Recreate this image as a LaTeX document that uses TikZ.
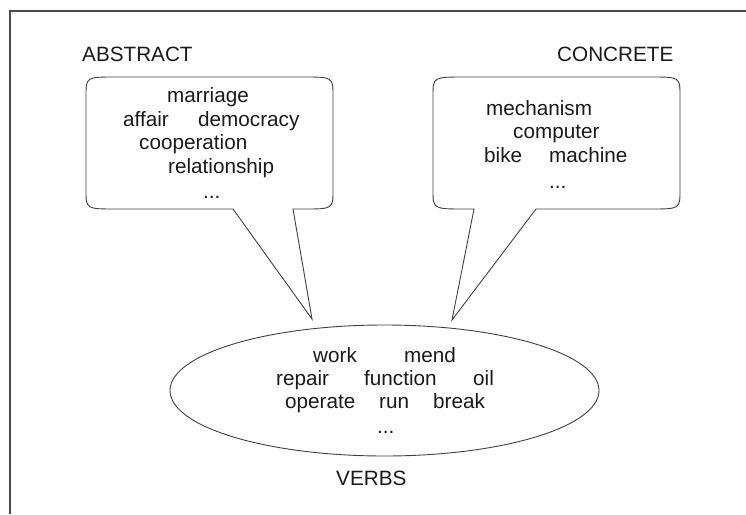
\documentclass[tikz,border=0pt]{standalone}
\usepackage{fontspec}
\setmainfont{Liberation Sans}
\begin{document}
\begin{tikzpicture}[x=1pt,y=-1pt,
  word/.style={inner sep=0pt, anchor=base west, text=black!90, font=\fontsize{20.7}{24}\selectfont},
  bub/.style={draw=black!75, line width=0.9pt, line join=miter},
  frameline/.style={draw=black!70, line width=1.3pt}]
\useasboundingbox (0,0) rectangle (746,514);
% frame
\draw[frameline] (10,514) -- (10,11) -- (746,11);
% headings
\node[word] (abstract) at (82,61) {ABSTRACT};
\node[word] (concrete) at (557,61) {CONCRETE};
\node[word] (verbs) at (336,485) {VERBS};
% abstract bubble
\draw[bub] (116,77) -- (303,77) .. controls (333,77) .. (333,96) -- (333,190) .. controls (333,209) .. (303,209) -- (293,209) -- (312,319) -- (233,209) -- (116,209) .. controls (86,209) .. (86,190) -- (86,96) .. controls (86,77) .. (116,77) -- cycle;
% concrete bubble
\draw[bub] (465,77) -- (650,77) .. controls (680,77) .. (680,96) -- (680,190) .. controls (680,209) .. (650,209) -- (536,209) -- (452,320) -- (474,209) -- (465,209) .. controls (433,209) .. (433,190) -- (433,96) .. controls (433,77) .. (465,77) -- cycle;
% verbs ellipse
\draw[bub] (384.5,390.5) ellipse [x radius=214.5pt, y radius=65.5pt];
% abstract words
\node[word] (marriage) at (167,102) {marriage};
\node[word] (affair) at (123,126) {affair};
\node[word] (democracy) at (198,126) {democracy};
\node[word] (cooperation) at (139,149) {cooperation};
\node[word] (relationship) at (168,173) {relationship};
\node[word] (adots) at (203,198) {...};
% concrete words
\node[word] (mechanism) at (486,115) {mechanism};
\node[word] (computer) at (513,138) {computer};
\node[word] (bike) at (484,162) {bike};
\node[word] (machine) at (549,162) {machine};
\node[word] (cdots) at (549,188) {...};
% verbs words
\node[word] (work) at (313,362) {work};
\node[word] (mend) at (404,362) {mend};
\node[word] (repair) at (276,385) {repair};
\node[word] (function) at (364,385) {function};
\node[word] (oil) at (473,385) {oil};
\node[word] (operate) at (285,408) {operate};
\node[word] (run) at (379,408) {run};
\node[word] (break) at (433,408) {break};
\node[word] (vdots) at (377,433) {...};
\end{tikzpicture}
\end{document}
